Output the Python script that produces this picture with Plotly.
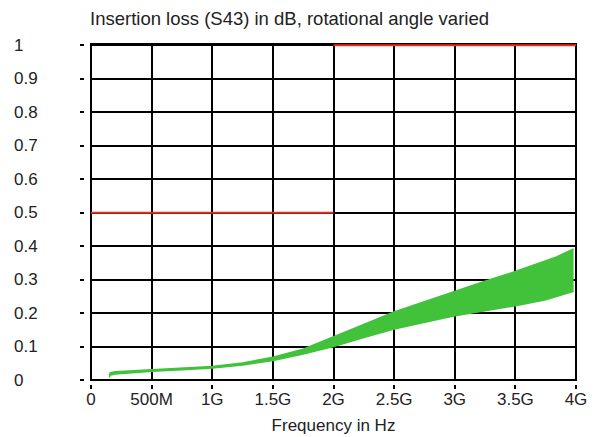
import plotly.graph_objects as go

# ---- data ----
freq_ghz = [0.15, 0.16, 0.2, 0.3, 0.5, 0.75, 1.0, 1.25, 1.5, 1.75, 2.0, 2.25, 2.5,
            2.8, 3.0, 3.25, 3.5, 3.75, 3.84, 3.98]
loss_lower = [0.008, 0.015, 0.018, 0.021, 0.026, 0.031, 0.036, 0.045, 0.058, 0.078,
              0.100, 0.127, 0.152, 0.176, 0.192, 0.207, 0.222, 0.240, 0.250, 0.265]
loss_upper = [0.015, 0.022, 0.025, 0.027, 0.031, 0.035, 0.040, 0.051, 0.068, 0.092,
              0.128, 0.166, 0.203, 0.240, 0.266, 0.295, 0.324, 0.355, 0.368, 0.392]

limit_freq_ghz = [0.0, 2.0, 2.0, 4.0]
limit_db = [0.5, 0.5, 1.0, 1.0]

x_tickvals_ghz = [0, 0.5, 1.0, 1.5, 2.0, 2.5, 3.0, 3.5, 4.0]
x_ticktext = ["0", "500M", "1G", "1.5G", "2G", "2.5G", "3G", "3.5G", "4G"]
y_tickvals = [0, 0.1, 0.2, 0.3, 0.4, 0.5, 0.6, 0.7, 0.8, 0.9, 1.0]
y_ticktext = ["0", "0.1", "0.2", "0.3", "0.4", "0.5", "0.6", "0.7", "0.8", "0.9", "1"]

GREEN = "#42c23b"
RED = "#ea2a1a"
FONT = "Liberation Sans, Arial, sans-serif"
TXT = "#222222"
FS = 17

hz = lambda a: [v * 1e9 for v in a]

fig = go.Figure()
fig.add_trace(go.Scatter(x=hz(freq_ghz), y=loss_lower, mode="lines",
                         line=dict(color=GREEN, width=1.5), showlegend=False))
fig.add_trace(go.Scatter(x=hz(freq_ghz), y=loss_upper, mode="lines", fill="tonexty",
                         fillcolor=GREEN, line=dict(color=GREEN, width=1.5), showlegend=False))
fig.add_trace(go.Scatter(x=hz(limit_freq_ghz[:2]), y=limit_db[:2], mode="lines",
                         line=dict(color=RED, width=2), showlegend=False))
fig.add_trace(go.Scatter(x=hz(limit_freq_ghz[2:]), y=limit_db[2:], mode="lines",
                         line=dict(color=RED, width=2), showlegend=False))

# page has an 8px body margin, so the figure is drawn 8px in from the top-left
W, H = 588, 429
ml, mr, mt, mb = 70, 20, 36, 53
pw, ph = W - ml - mr, H - mt - mb

fig.update_layout(
    width=W, height=H,
    margin=dict(l=ml, r=mr, t=mt, b=mb, autoexpand=False),
    paper_bgcolor="white", plot_bgcolor="white",
    font=dict(family=FONT, size=FS, color=TXT),
    title=dict(text="Insertion loss (S43) in dB, rotational angle varied",
               x=82 / W, xanchor="left", xref="container",
               y=1 - 11 / H, yanchor="middle", yref="container",
               font=dict(family=FONT, size=18.5, color=TXT)),
    xaxis=dict(range=[0, 4e9], domain=[13 / pw, 1], anchor="free", position=0,
               tickvals=hz(x_tickvals_ghz), ticktext=x_ticktext,
               ticks="outside", ticklen=4, tickwidth=1.5, tickcolor="black",
               showgrid=True, gridcolor="black", gridwidth=1.6, automargin=False,
               showline=False, zeroline=False, ticklabelstandoff=-4,
               title=dict(text="Frequency in Hz", standoff=10,
                          font=dict(family=FONT, size=FS, color=TXT))),
    yaxis=dict(range=[0, 1.004], domain=[4 / ph, 1], anchor="free", position=6 / pw,
               tickvals=y_tickvals, showticklabels=False, automargin=False,
               ticks="outside", ticklen=4, tickwidth=1.5, tickcolor="black",
               showgrid=True, gridcolor="black", gridwidth=1.6,
               showline=False, zeroline=False),
)

fig.add_shape(type="rect", xref="x domain", yref="y domain", x0=0, x1=1, y0=0, y1=1,
              line=dict(color="black", width=2), layer="below")

for v, t in zip(y_tickvals, y_ticktext):
    fig.add_annotation(x=(4 - ml) / pw, xref="paper", xanchor="left",
                       y=v, yref="y", yanchor="middle", text=t, showarrow=False,
                       font=dict(family=FONT, size=FS, color=TXT))

fig.write_html("out.html")
